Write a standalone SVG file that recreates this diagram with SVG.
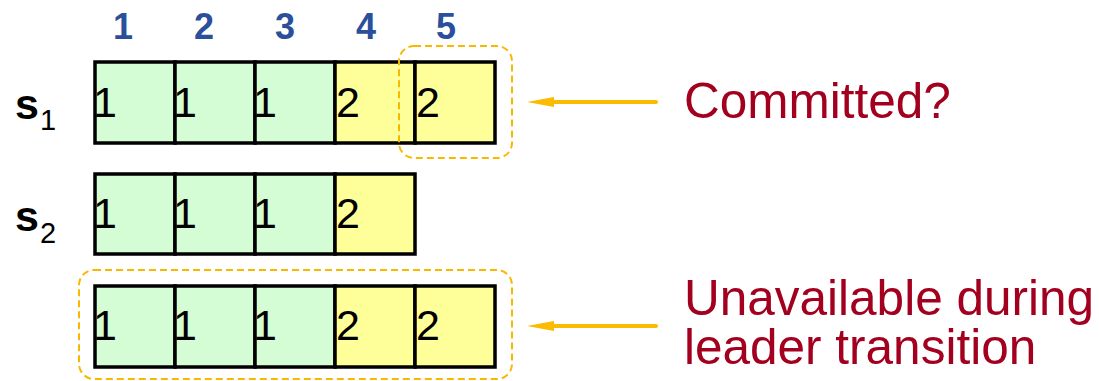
<svg xmlns="http://www.w3.org/2000/svg" width="1099" height="381" viewBox="0 0 1099 381">
<defs>
<style>
.g{fill:#d5fdd5;stroke:#000;stroke-width:3.5}
.y{fill:#ffff99;stroke:#000;stroke-width:3.5}
.d{font-family:"Liberation Sans",Arial,sans-serif;font-size:43px;fill:#000}
.n{font-family:"Liberation Sans",Arial,sans-serif;font-size:36px;font-weight:bold;fill:#2b4f9b;text-anchor:middle}
.s{font-family:"Liberation Sans",Arial,sans-serif;font-size:43px;font-weight:bold;fill:#000}
.sub{font-size:29px;font-weight:normal}
.r{font-family:"Liberation Sans",Arial,sans-serif;font-size:49.5px;fill:#a3001f}
.box{fill:none;stroke:#f9b800;stroke-width:2;stroke-dasharray:7,4}
.arr{stroke:#fbbb00;stroke-width:4;stroke-linecap:round;fill:none}
.head{fill:#fbbb00}
</style>
</defs>
<g id="indices">
<text class="n" x="123" y="39">1</text>
<text class="n" x="204" y="39">2</text>
<text class="n" x="285" y="39">3</text>
<text class="n" x="366" y="39">4</text>
<text class="n" x="446" y="39">5</text>
</g>
<g id="label-s1"><text class="s" x="15" y="119">s<tspan class="sub" dx="1" dy="11">1</tspan></text></g>
<g id="label-s2"><text class="s" x="15" y="231">s<tspan class="sub" dx="1" dy="12">2</tspan></text></g>
<g id="row-s1">
<rect class="g" x="95" y="62" width="80" height="81"/>
<rect class="g" x="175" y="62" width="80" height="81"/>
<rect class="g" x="255" y="62" width="80" height="81"/>
<rect class="y" x="335" y="62" width="80" height="81"/>
<rect class="y" x="415" y="62" width="80" height="81"/>
<text class="d" x="93" y="117">1</text>
<text class="d" x="173" y="117">1</text>
<text class="d" x="253" y="117">1</text>
<text class="d" x="336" y="117">2</text>
<text class="d" x="416" y="117">2</text>
</g>
<g id="row-s2">
<rect class="g" x="95" y="174" width="80" height="80"/>
<rect class="g" x="175" y="174" width="80" height="80"/>
<rect class="g" x="255" y="174" width="80" height="80"/>
<rect class="y" x="335" y="174" width="80" height="80"/>
<text class="d" x="93" y="228">1</text>
<text class="d" x="173" y="228">1</text>
<text class="d" x="253" y="228">1</text>
<text class="d" x="336" y="228">2</text>
</g>
<g id="row-s3">
<rect class="g" x="95" y="286" width="80" height="81"/>
<rect class="g" x="175" y="286" width="80" height="81"/>
<rect class="g" x="255" y="286" width="80" height="81"/>
<rect class="y" x="335" y="286" width="80" height="81"/>
<rect class="y" x="415" y="286" width="80" height="81"/>
<text class="d" x="93" y="340">1</text>
<text class="d" x="173" y="340">1</text>
<text class="d" x="253" y="340">1</text>
<text class="d" x="336" y="340">2</text>
<text class="d" x="416" y="340">2</text>
</g>
<g id="highlight-s1-5"><rect class="box" x="399" y="46" width="113" height="112" rx="15"/></g>
<g id="highlight-s3"><rect class="box" x="79" y="270" width="433" height="109" rx="15"/></g>
<g id="connectors">
<line class="arr" x1="656" y1="102" x2="552" y2="102"/>
<path class="head" d="M527,102 L554,97 L554,107 Z"/>
<line class="arr" x1="656" y1="326" x2="552" y2="326"/>
<path class="head" d="M527,326 L554,321 L554,331 Z"/>
</g>
<g id="label-committed"><text class="r" x="684" y="118">Committed?</text></g>
<g id="label-unavailable">
<text class="r" x="684" y="315">Unavailable during</text>
<text class="r" x="684" y="364">leader transition</text>
</g>
</svg>
